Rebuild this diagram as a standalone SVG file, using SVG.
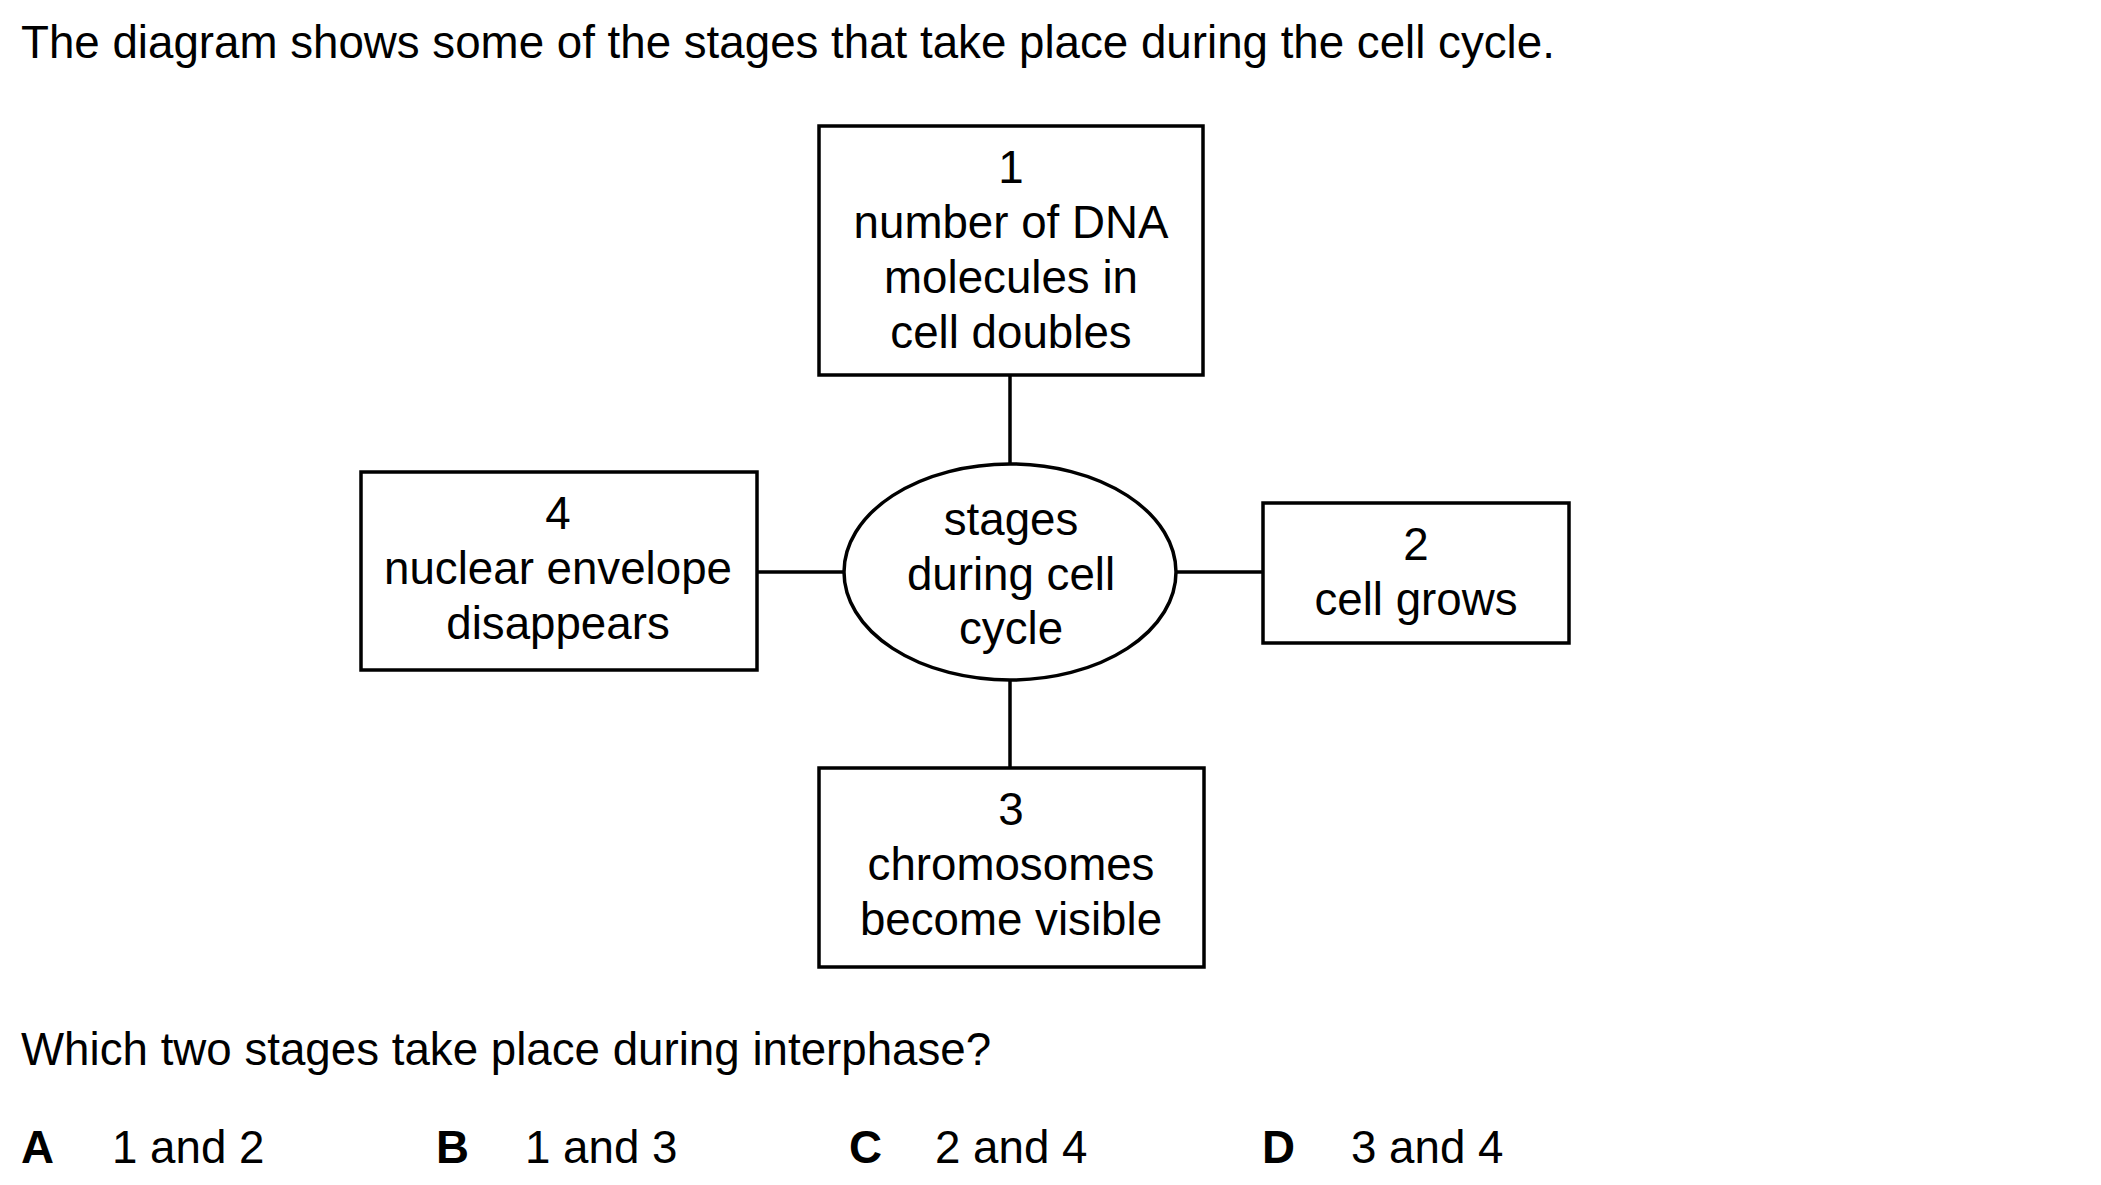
<svg xmlns="http://www.w3.org/2000/svg" width="2101" height="1185" viewBox="0 0 2101 1185">
<style>
text{font-family:"Liberation Sans",Arial,sans-serif;font-size:45.7px;fill:#000}
.c{text-anchor:middle}
.b{font-weight:bold}
.box{fill:#fff;stroke:#000;stroke-width:3.5}
.con{stroke:#000;stroke-width:3.5;fill:none}
</style>
<rect width="2101" height="1185" fill="#fff"/>
<text x="21" y="58">The diagram shows some of the stages that take place during the cell cycle.</text>
<g id="connectors">
<line class="con" x1="1010" y1="375" x2="1010" y2="464"/>
<line class="con" x1="1010" y1="680" x2="1010" y2="768"/>
<line class="con" x1="757" y1="572" x2="844" y2="572"/>
<line class="con" x1="1176" y1="572" x2="1263" y2="572"/>
</g>
<g id="node1">
<rect class="box" x="819" y="126" width="384" height="249"/>
<text class="c" x="1011" y="183">1</text>
<text class="c" x="1011" y="238">number of DNA</text>
<text class="c" x="1011" y="293">molecules in</text>
<text class="c" x="1011" y="348">cell doubles</text>
</g>
<g id="node2">
<rect class="box" x="1263" y="503" width="306" height="140"/>
<text class="c" x="1416" y="560">2</text>
<text class="c" x="1416" y="615">cell grows</text>
</g>
<g id="node3">
<rect class="box" x="819" y="768" width="385" height="199"/>
<text class="c" x="1011" y="825">3</text>
<text class="c" x="1011" y="880">chromosomes</text>
<text class="c" x="1011" y="935">become visible</text>
</g>
<g id="node4">
<rect class="box" x="361" y="472" width="396" height="198"/>
<text class="c" x="558" y="529">4</text>
<text class="c" x="558" y="584">nuclear envelope</text>
<text class="c" x="558" y="639">disappears</text>
</g>
<g id="center">
<ellipse class="box" cx="1010" cy="572" rx="166" ry="108"/>
<text class="c" x="1011" y="535">stages</text>
<text class="c" x="1011" y="590">during cell</text>
<text class="c" x="1011" y="644">cycle</text>
</g>
<text x="21" y="1065">Which two stages take place during interphase?</text>
<text class="b" x="21" y="1163">A</text>
<text x="112" y="1163">1 and 2</text>
<text class="b" x="436" y="1163">B</text>
<text x="525" y="1163">1 and 3</text>
<text class="b" x="849" y="1163">C</text>
<text x="935" y="1163">2 and 4</text>
<text class="b" x="1262" y="1163">D</text>
<text x="1351" y="1163">3 and 4</text>
</svg>
